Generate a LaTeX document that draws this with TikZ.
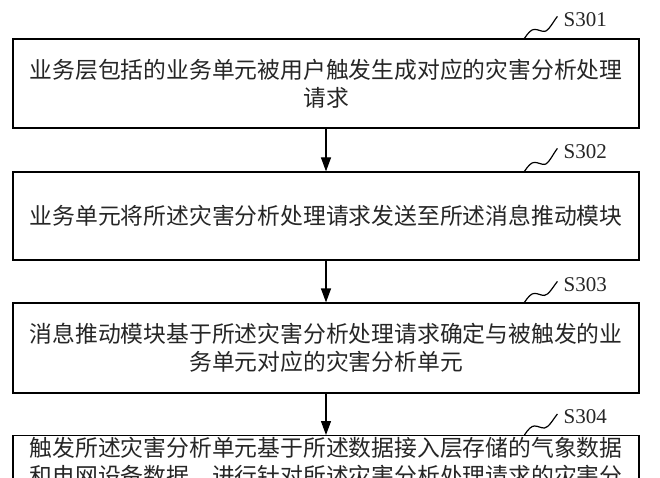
\documentclass[tikz,border=0pt]{standalone}
\usepackage{fontspec}
\setmainfont{Liberation Serif}
\newfontfamily\cjk{Noto Sans CJK SC}
\usetikzlibrary{arrows.meta,calc}

\tikzset{
  stepbox/.style={draw, line width=1.2pt, minimum width=626pt, inner xsep=0pt, inner ysep=0pt,
    align=center, font=\cjk\fontsize{22.8}{28}\selectfont, text=black!85},
  steplabel/.style={anchor=west, inner sep=0pt, font=\fontsize{21}{24}\selectfont, text=black!85},
  flow/.style={line width=1.2pt, -{Triangle[width=10pt,length=14pt]}},
  squig/.style={line width=1.2pt}
}

\begin{document}
\begin{tikzpicture}[x=1pt,y=-1pt]
  \clip (0,0) rectangle (660,478);
  \fill[white] (0,0) rectangle (660,478);

  % S301 box
  \node[stepbox, minimum height=89pt] (b1) at (326,83.5)
    {业务层包括的业务单元被用户触发生成对应的灾害分析处理\\请求};
  \coordinate (c1) at ($(b1.north west)+(512,0)$);
  \node[steplabel] (l1) at ($(c1)+(39,-19)$) {S301};
  \draw[squig] (c1) .. controls +(4,-6) and +(-3,0) .. ($(c1)+(10,-9)$)
    .. controls +(4,0) and +(-4,0) .. ($(c1)+(20,-7)$)
    .. controls +(4,0) and +(-4,5) .. ($(l1.west)+(-6,-3)$);

  % S302 box
  \node[stepbox, minimum height=88pt] (b2) at (326,216)
    {业务单元将所述灾害分析处理请求发送至所述消息推动模块};
  \coordinate (c2) at ($(b2.north west)+(512,0)$);
  \node[steplabel] (l2) at ($(c2)+(39,-20)$) {S302};
  \draw[squig] (c2) .. controls +(4,-6) and +(-3,0) .. ($(c2)+(10,-9)$)
    .. controls +(4,0) and +(-4,0) .. ($(c2)+(20,-7)$)
    .. controls +(4,0) and +(-4,5) .. ($(l2.west)+(-6,-3)$);

  % S303 box
  \node[stepbox, minimum height=90pt] (b3) at (326,348)
    {消息推动模块基于所述灾害分析处理请求确定与被触发的业\\务单元对应的灾害分析单元};
  \coordinate (c3) at ($(b3.north west)+(512,0)$);
  \node[steplabel] (l3) at ($(c3)+(39,-18)$) {S303};
  \draw[squig] (c3) .. controls +(4,-6) and +(-3,0) .. ($(c3)+(10,-9)$)
    .. controls +(4,0) and +(-4,0) .. ($(c3)+(20,-7)$)
    .. controls +(4,0) and +(-4,5) .. ($(l3.west)+(-6,-3)$);

  % S304 box, runs past the bottom edge
  \node[stepbox, anchor=north, inner ysep=2pt, text depth=80pt] (b4) at (326,435)
    {触发所述灾害分析单元基于所述数据接入层存储的气象数据\\和电网设备数据，进行针对所述灾害分析处理请求的灾害分};
  \coordinate (c4) at ($(b4.north west)+(512,0)$);
  \node[steplabel] (l4) at ($(c4)+(39,-18)$) {S304};
  \draw[squig] (c4) .. controls +(4,-6) and +(-3,0) .. ($(c4)+(10,-9)$)
    .. controls +(4,0) and +(-4,0) .. ($(c4)+(20,-7)$)
    .. controls +(4,0) and +(-4,5) .. ($(l4.west)+(-6,-3)$);

  % Arrows
  \draw[flow] (b1.south) -- (b2.north);
  \draw[flow] (b2.south) -- (b3.north);
  \draw[flow] (b3.south) -- (b4.north);
\end{tikzpicture}
\end{document}
